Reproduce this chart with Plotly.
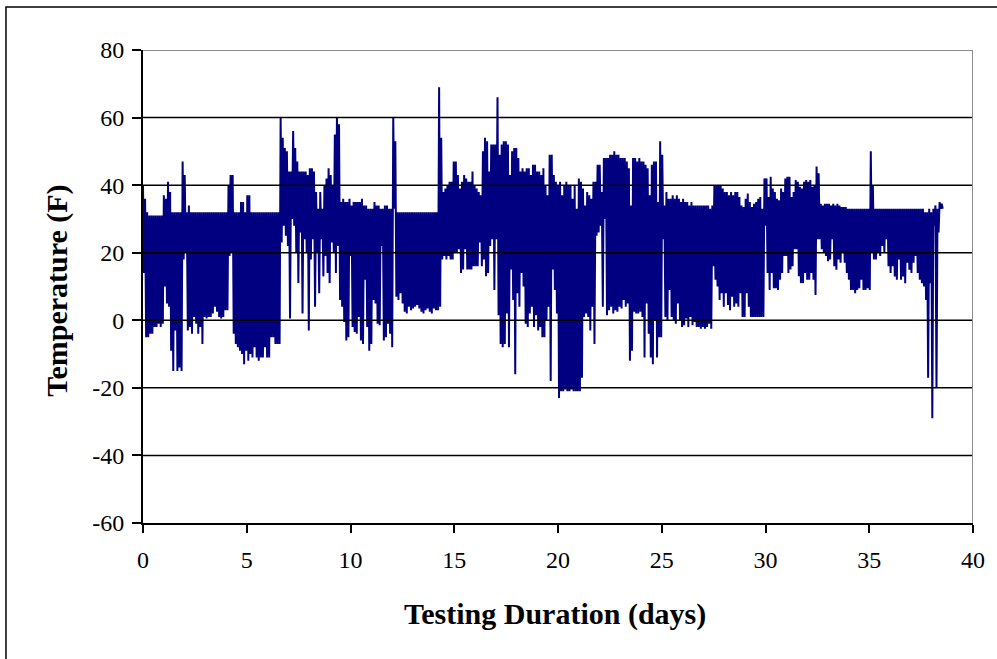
import numpy as np
import plotly.graph_objects as go

# Duration of one warm/cold cycle in the record (days)
cycle_days = 0.1005

# Peak (warm) temperature of each cycle, deg F, days 0.0 .. 38.3
temp_high = [
    40, 36, 32, 31, 31, 31, 31, 31, 31, 31,
    37, 36, 41, 38, 32, 32, 32, 32, 32, 47,
    43, 32, 34, 32, 32, 32, 32, 32, 32, 32,
    32, 32, 32, 32, 32, 32, 32, 32, 32, 32,
    32, 40, 43, 43, 32, 32, 32, 35, 35, 32,
    37, 37, 32, 32, 32, 32, 32, 32, 32, 32,
    32, 32, 32, 32, 32, 32, 60, 54, 51, 50,
    44, 44, 56, 51, 47, 44, 44, 44, 44, 43,
    45, 45, 44, 38, 33, 38, 33, 40, 42, 45,
    43, 40, 55, 60, 58, 35, 36, 35, 35, 36,
    34, 35, 35, 35, 35, 36, 34, 34, 33, 33,
    33, 35, 34, 34, 33, 33, 34, 34, 33, 33,
    60, 53, 32, 32, 32, 32, 32, 32, 32, 32,
    32, 32, 32, 32, 32, 32, 32, 32, 32, 32,
    32, 32, 69, 54, 38, 39, 40, 41, 41, 47,
    47, 43, 39, 41, 43, 42, 41, 41, 44, 40,
    39, 38, 37, 50, 54, 53, 44, 52, 52, 52,
    66, 49, 52, 53, 53, 52, 43, 50, 51, 51,
    48, 44, 45, 44, 45, 45, 43, 46, 46, 44,
    44, 43, 45, 40, 37, 49, 49, 43, 41, 40,
    41, 37, 40, 41, 40, 40, 36, 40, 33, 42,
    41, 39, 34, 38, 37, 36, 41, 41, 46, 46,
    38, 48, 48, 48, 49, 49, 50, 49, 49, 48,
    48, 48, 47, 45, 34, 48, 48, 47, 48, 47,
    47, 46, 45, 37, 46, 47, 47, 35, 53, 49,
    34, 38, 36, 36, 37, 36, 37, 36, 35, 36,
    35, 35, 34, 35, 34, 34, 34, 34, 34, 34,
    34, 34, 33, 34, 40, 40, 40, 40, 39, 38,
    38, 37, 38, 37, 38, 38, 36.5, 34, 33.5, 36,
    37.5, 35, 33.5, 34.5, 35, 36, 36.5, 33, 42, 42,
    36.5, 42.5, 39, 38, 36, 35.5, 39, 38, 42, 42.5,
    42.5, 36.5, 38, 41.5, 41, 39.5, 39, 41, 41.5, 41,
    41.5, 39.5, 40, 45.5, 43.5, 34.5, 34, 34.5, 34.5, 34.5,
    34, 34.5, 34, 34.5, 34, 33.5, 33.5, 33.5, 33, 33,
    33, 33, 33, 33, 33, 33, 33, 33, 33, 50,
    40, 33, 33, 33, 33, 33, 33, 33, 33, 33,
    33, 33, 33, 33, 33, 33, 33, 33, 33, 33,
    33, 33, 33, 33, 33, 32, 32, 33, 32, 33,
    34, 33, 35, 34.5,
]

# Trough (cold) temperature of each cycle, deg F
temp_low = [
    14, -5, -5, -4, -4, -2, -2, -1, -2, -1,
    10, 5, 4, -9, -15, -3, -15, -14, -15, 18,
    20, -3, -2, -4, 1, -1, -4, -2, -7, 1,
    0.5, 1, 1, 2, 4, 2.5, 1, 0.5, 1, 3,
    3, 19, 20, -4, -7, -8, -9, -10, -13, -9,
    -12, -10, -11, -8, -11, -12, -11, -11, -8, -11,
    -11, -5, -5, -7, -7, -7, 23, 28, 25, 22,
    0.5, 30, 28, 20, 11, 26, 2, 24, 20, -3,
    18, 24, 4, 20, 8, 24, 13, 19, 14, 11,
    23, 20, 14, 22, 6, 4, -0.5, -6, -5, 19,
    -2, -3.5, -4, 1, -6, -7, 12, -2, -9, -7,
    6, 5, -1, -1.5, 22, -6, -5, -1, -4, -8,
    33, 7, 6, 8, 5, 2.5, 2, 4, 3, 3.5,
    4, 4.5, 3.5, 2.5, 2, 3, 3.5, 2.5, 2, 3.5,
    3, 3, 4, 18, 19, 18, 19, 18, 18, 20,
    20, 21, 14, 15, 21, 15, 15, 15, 16, 16,
    16, 23, 16, 18, 13, 14, 22, 24, 9, 24,
    1.5, -7, -8, -7, 2, -8, 15, 6, -16, 8,
    4, 14, 10, -1, -2, 2, 4, -2, 1.5, -3,
    -2, -5, -5, 0, 4, -18, 15, 9, 2, -23,
    -21, -21, -20.5, -21, -21, -20.5, -21, -21, -21, -21,
    -17, 1, 2, 1, -3, 4, -7, 25, 26, 28,
    4, 30, 1.5, 3, 4, 2, 3, 2.5, 4, 3.5,
    6, 4, 5, -12, -9, 2.5, 2, 2, 2.5, 1,
    -11, 5, -4, -11, -13, 0, -11, -5, -5, 24,
    1, 0, 9, 1, 0, -1, 5, 0, -2, -1.5,
    0.5, -2, 1, -1.5, -0.5, -2, -2, -2.5, -2, -2.5,
    -2, -1, -2.5, 16, 12, 10, 6, 8, 4, 8,
    4.5, 3, 7, 4, 5, 4, 8, 1, 1, 8,
    4, 1, 1, 1, 1, 1, 1, 1, 28, 14,
    9, 14, 9.5, 9.5, 9, 12, 14, 19, 19, 14,
    15, 16, 21, 21, 13, 11, 11, 14, 12, 12,
    14, 12, 7.5, 24, 24, 21, 20, 19, 17.5, 18,
    24, 16, 15, 18, 17, 20, 17, 14, 12, 9,
    9, 8, 9, 9.5, 12, 9, 9, 9.5, 9, 20,
    18, 18, 20, 19, 22, 20, 24, 16, 14, 16,
    13, 12, 18, 12, 13, 11, 17, 15, 14, 17,
    19, 14, 12, 11, 10, 6, -17, 11, -29, 28,
    -20, 26, 33, 33,
]

x_ticks = [0, 5, 10, 15, 20, 25, 30, 35, 40]
y_ticks = [-60, -40, -20, 0, 20, 40, 60, 80]

# Interleave warm and cold readings into one time series
n = len(temp_high)
start = np.arange(n) * cycle_days
day = np.empty(2 * n)
temp = np.empty(2 * n)
day[0::2] = start
day[1::2] = start + cycle_days / 2
temp[0::2] = temp_high
temp[1::2] = temp_low

fig = go.Figure()
fig.add_trace(go.Scatter(
    x=day, y=temp, mode="lines",
    line=dict(color="#000080", width=2),
    hoverinfo="skip", showlegend=False,
))

serif = "Liberation Serif"
font_tick = dict(family=serif, size=24, color="black")
font_title = dict(family=serif, size=30, color="black")

shapes = []
# horizontal gridlines, drawn over the trace
for v in y_ticks[1:-1]:
    shapes.append(dict(type="line", xref="x", yref="y", x0=0, x1=40, y0=v, y1=v,
                       line=dict(color="black", width=1.5), layer="above"))
# grey plot-area border on top and right
shapes.append(dict(type="line", xref="x", yref="y", x0=0, x1=40, y0=80, y1=80,
                   line=dict(color="#8c8c8c", width=2), layer="above"))
shapes.append(dict(type="line", xref="x", yref="y", x0=40, x1=40, y0=-60, y1=80,
                   line=dict(color="#8c8c8c", width=2), layer="above"))
# chart frame
shapes.append(dict(type="rect", xref="paper", yref="paper",
                   x0=(5 - 143) / 836, x1=(1010 - 143) / 836,
                   y0=(522.5 - 670) / 472.5, y1=(522.5 - 7) / 472.5,
                   line=dict(color="black", width=1.5), fillcolor="rgba(0,0,0,0)"))

fig.update_layout(
    width=997, height=659,
    margin=dict(l=143, r=18, t=50, b=136),
    paper_bgcolor="white", plot_bgcolor="white",
    showlegend=False,
    shapes=shapes,
    xaxis=dict(
        range=[0, 40], tickvals=x_ticks, ticktext=[str(v) for v in x_ticks],
        ticks="outside", ticklen=8, tickwidth=1.5, tickcolor="black",
        showline=True, linecolor="black", linewidth=2, showgrid=False, zeroline=False,
        tickfont=font_tick, ticklabelstandoff=6, fixedrange=True,
    ),
    yaxis=dict(
        range=[-60, 80], tickvals=y_ticks, ticktext=[str(v) for v in y_ticks],
        ticks="outside", ticklen=9, tickwidth=1.5, tickcolor="black",
        showline=True, linecolor="black", linewidth=2, showgrid=False, zeroline=False,
        tickfont=font_tick, ticklabelstandoff=3, fixedrange=True,
    ),
    annotations=[
        dict(text="<b>Testing Duration (days)</b>", xref="paper", yref="paper",
             x=0.496, y=(522.5 - 613) / 472.5, xanchor="center", yanchor="middle",
             showarrow=False, font=font_title),
        dict(text="<b>Temperature (F)</b>", xref="paper", yref="paper",
             x=(57 - 143) / 836, y=0.49, xanchor="center", yanchor="middle",
             textangle=-90, showarrow=False, font=font_title),
    ],
)

fig.write_html("out.html")
